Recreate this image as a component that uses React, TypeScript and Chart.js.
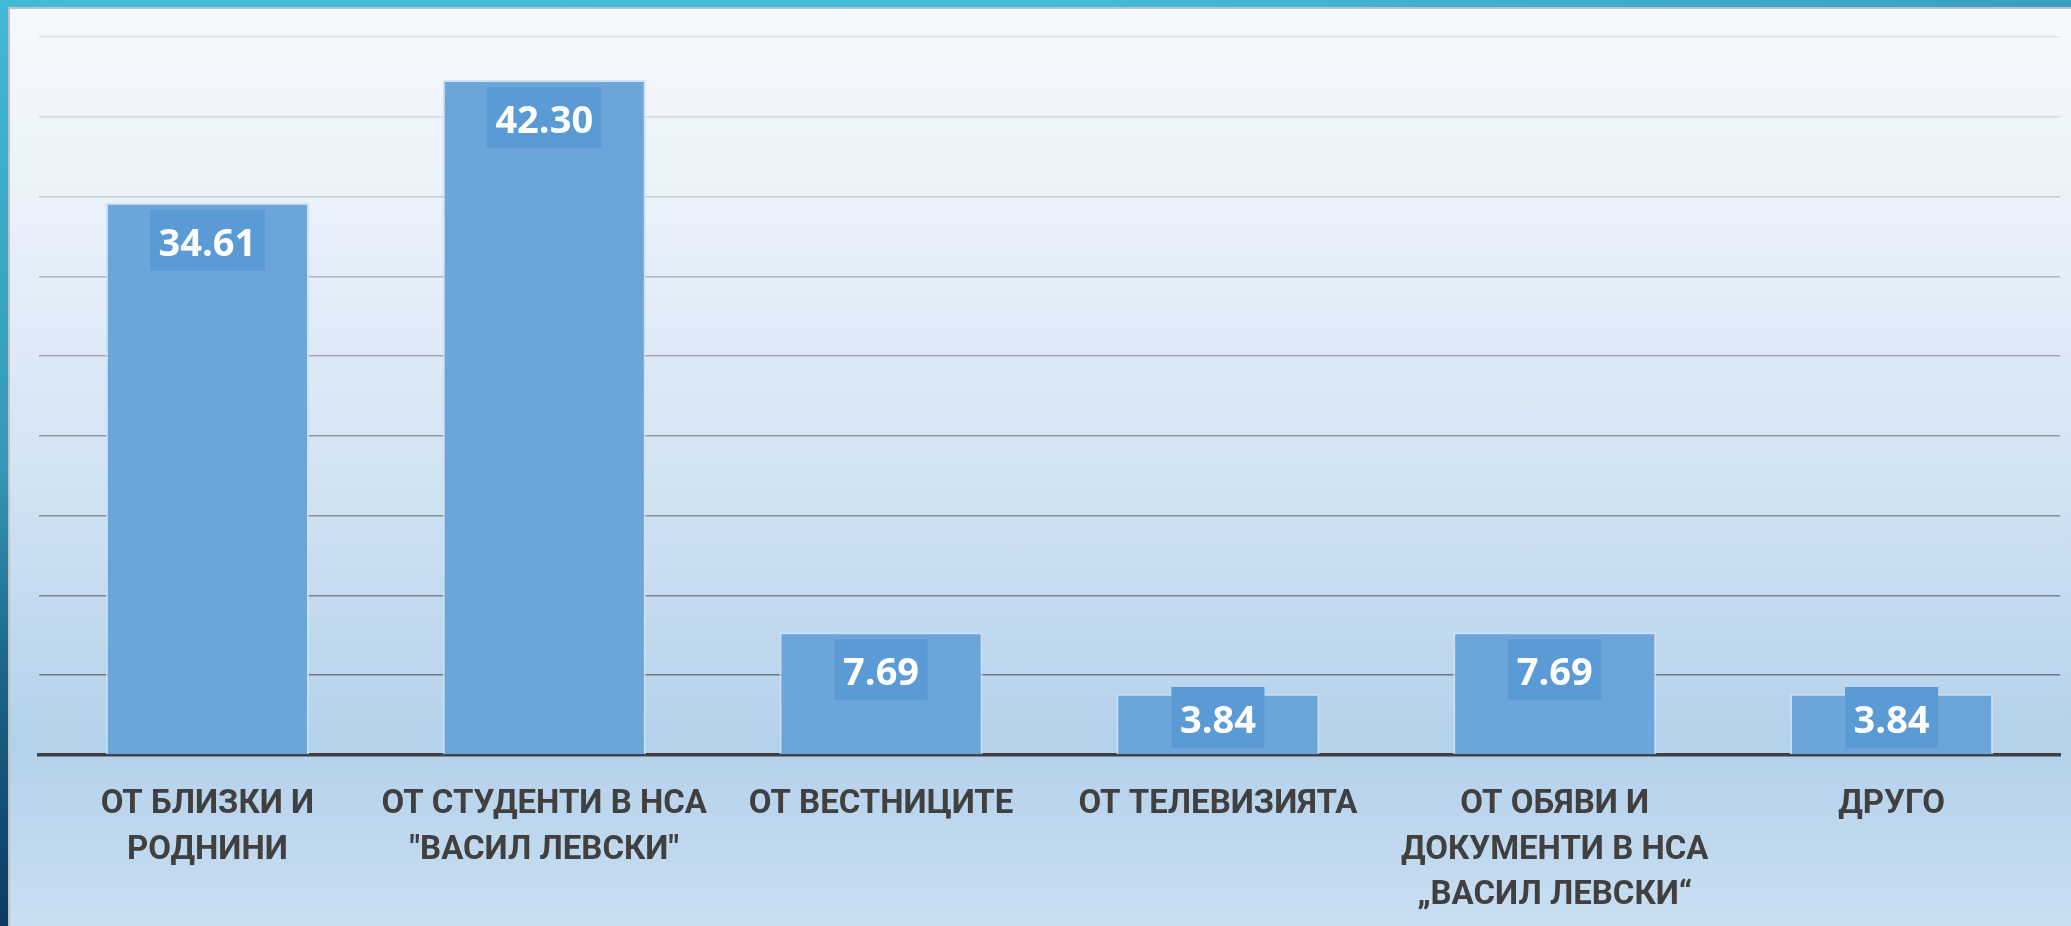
import React, { useEffect, useRef } from "react";
import { Chart, registerables } from "chart.js";

Chart.register(...registerables);

const categories: string[][] = [
  ["ОТ БЛИЗКИ И", "РОДНИНИ"],
  ["ОТ СТУДЕНТИ В НСА", "\"ВАСИЛ ЛЕВСКИ\""],
  ["ОТ ВЕСТНИЦИТЕ"],
  ["ОТ ТЕЛЕВИЗИЯТА"],
  ["ОТ ОБЯВИ И", "ДОКУМЕНТИ В НСА", "„ВАСИЛ ЛЕВСКИ“"],
  ["ДРУГО"],
];
const values: number[] = [34.61, 42.3, 7.69, 3.84, 7.69, 3.84];
const valueLabels: string[] = ["34.61", "42.30", "7.69", "3.84", "7.69", "3.84"];
const yMax = 45;
const yStep = 5;

const gridColors = [
  "#404040",
  "#6f7882",
  "#7a838d",
  "#858e98",
  "#9199a3",
  "#a0a7b0",
  "#b2b8bf",
  "#c6cad0",
  "#d6d9dd",
  "#dde0e4",
];

const labelPlugin = {
  id: "boxLabels",
  afterDatasetsDraw(chart: any) {
    const ctx = chart.ctx as CanvasRenderingContext2D;
    const meta = chart.getDatasetMeta(0);
    const base = chart.scales.y.getPixelForValue(0);
    ctx.save();
    ctx.font = "bold 38px 'Open Sans'";
    meta.data.forEach((bar: any, i: number) => {
      const text = valueLabels[i];
      const tw = ctx.measureText(text).width;
      const w = tw + 17;
      const h = 61;
      let top = bar.y + 7;
      if (top + h > base - 7) top = base - 7 - h;
      ctx.fillStyle = "#5b9bd5";
      ctx.fillRect(bar.x - w / 2, top, w, h);
      ctx.fillStyle = "#ffffff";
      ctx.textAlign = "center";
      ctx.textBaseline = "alphabetic";
      ctx.fillText(text, bar.x, top + 46);
    });
    ctx.restore();
  },
};

export default function App() {
  const ref = useRef<HTMLCanvasElement>(null);
  useEffect(() => {
    document.body.style.margin = "0";
    const chart = new Chart(ref.current!, {
      type: "bar",
      data: {
        labels: categories,
        datasets: [
          {
            data: values,
            backgroundColor: "#6ca5d9",
            borderColor: "rgba(205,225,245,0.85)",
            borderWidth: 2,
            borderSkipped: "bottom",
            categoryPercentage: 1,
            barPercentage: 0.603,
          },
        ],
      },
      options: {
        animation: false,
        responsive: false,
        maintainAspectRatio: false,
        layout: { padding: { left: 39, right: 11, top: 37, bottom: 0 } },
        plugins: { legend: { display: false }, tooltip: { enabled: false } },
        scales: {
          x: {
            grid: { display: false, drawTicks: false },
            border: { display: true, color: "#404040", width: 3.5 },
            ticks: {
              autoSkip: false,
              maxRotation: 0,
              minRotation: 0,
              padding: 27,
              color: "#404040",
              font: { family: "Roboto", size: 33, weight: "bold", lineHeight: 45.5 / 33 },
            },
            afterFit(scale: any) {
              scale.height = 171;
            },
          },
          y: {
            min: 0,
            max: yMax,
            display: true,
            grid: {
              drawTicks: false,
              lineWidth: 1.6,
              color: (c: any) => gridColors[c.index] || "#ccc",
            },
            border: { display: false },
            ticks: { stepSize: yStep, display: false },
            afterFit(scale: any) {
              scale.width = 0;
            },
          },
        },
      },
      plugins: [labelPlugin],
    });
    return () => chart.destroy();
  }, []);

  return (
    <div
      style={{
        position: "relative",
        width: 2071,
        height: 926,
        overflow: "hidden",
        background: "linear-gradient(180deg, #40bad4 0%, #3499b8 50%, #1c6689 72%, #0c3a62 100%)",
      }}
    >
      <div
        style={{
          position: "absolute",
          left: 0,
          top: 0,
          width: 2071,
          height: 8,
          background: "linear-gradient(90deg, #42bcd6 0%, #45bdd6 50%, #3a9fc0 100%)",
        }}
      />
      <div
        style={{
          position: "absolute",
          left: 8,
          top: 7,
          right: 0,
          bottom: 0,
          borderLeft: "2px solid #bcc2c8",
          borderTop: "2px solid #bcc2c8",
          background:
            "linear-gradient(180deg, #f6f9fd 0%, #e7f0f9 25%, #d3e4f3 50%, #b4d1eb 80%, #c9def1 100%)",
        }}
      />
      <canvas ref={ref} width={2071} height={926} style={{ position: "absolute", left: 0, top: 0 }} />
    </div>
  );
}
